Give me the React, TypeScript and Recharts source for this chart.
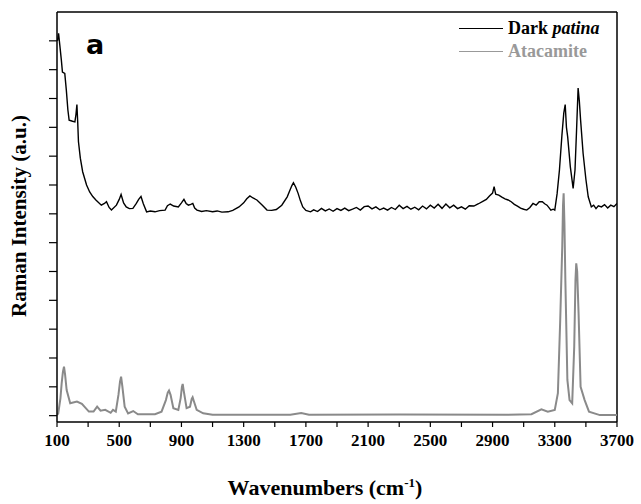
import React from 'react';
import { LineChart, Line, XAxis, YAxis, ReferenceLine } from 'recharts';

// Dark patina spectrum (wavenumber cm-1, intensity a.u.)
const patinaWavenumbers = [103,110,118,128,135,150,160,170,178,200,215,222,228,233,238,250,265,290,310,330,350,385,405,418,435,450,482,500,512,528,545,565,588,610,625,640,655,676,700,730,760,795,810,828,850,880,900,916,930,945,960,973,985,1000,1030,1060,1100,1130,1160,1200,1230,1270,1300,1320,1340,1360,1385,1420,1450,1480,1510,1545,1580,1600,1610,1620,1635,1650,1665,1680,1700,1730,1750,1775,1800,1825,1850,1875,1900,1925,1950,1975,2000,2025,2050,2075,2100,2125,2150,2175,2200,2225,2250,2275,2300,2325,2350,2375,2400,2425,2450,2475,2500,2525,2550,2575,2600,2625,2650,2675,2700,2725,2750,2780,2810,2840,2860,2880,2900,2910,2920,2940,2960,2980,3000,3020,3040,3060,3080,3100,3120,3140,3160,3180,3200,3220,3235,3250,3265,3275,3290,3300,3315,3330,3346,3358,3367,3375,3383,3400,3418,3430,3440,3450,3458,3466,3482,3500,3515,3535,3550,3565,3580,3600,3620,3640,3660,3680,3700];
const patinaIntensity = [13.0,13.26,12.85,12.33,11.92,11.87,11.29,10.6,10.25,10.21,10.19,10.45,10.79,10.2,9.5,8.93,8.46,8.0,7.76,7.6,7.48,7.3,7.36,7.42,7.22,7.13,7.3,7.5,7.67,7.38,7.24,7.18,7.19,7.36,7.5,7.6,7.35,7.07,7.1,7.07,7.11,7.13,7.28,7.34,7.27,7.24,7.38,7.5,7.36,7.3,7.33,7.36,7.2,7.13,7.08,7.11,7.07,7.1,7.06,7.07,7.12,7.24,7.38,7.52,7.62,7.55,7.48,7.3,7.13,7.12,7.15,7.3,7.59,7.85,7.98,8.08,7.92,7.71,7.45,7.24,7.12,7.07,7.14,7.08,7.19,7.1,7.17,7.09,7.18,7.12,7.2,7.11,7.16,7.22,7.13,7.25,7.27,7.17,7.24,7.14,7.2,7.13,7.22,7.15,7.3,7.18,7.26,7.16,7.23,7.14,7.27,7.17,7.3,7.2,7.33,7.19,7.34,7.21,7.3,7.18,7.24,7.16,7.28,7.27,7.35,7.44,7.5,7.62,7.72,7.94,7.68,7.65,7.58,7.52,7.48,7.42,7.33,7.27,7.2,7.16,7.13,7.22,7.36,7.3,7.42,7.42,7.35,7.3,7.2,7.13,7.16,7.13,7.7,8.52,9.73,10.5,10.79,10.0,9.67,8.63,7.88,8.52,9.9,11.36,10.9,10.25,9.1,8.2,7.59,7.24,7.3,7.18,7.28,7.24,7.32,7.2,7.3,7.25,7.36];

// Atacamite spectrum
const atacamiteWavenumbers = [100,108,122,130,138,145,152,162,185,228,260,305,335,358,380,410,445,460,478,495,505,512,520,535,557,590,620,730,772,800,812,820,830,848,880,895,903,908,915,933,955,966,972,980,998,1040,1100,1600,1670,1720,2300,3000,3150,3214,3255,3300,3320,3335,3348,3353,3357,3362,3368,3381,3395,3412,3425,3433,3438,3444,3453,3466,3492,3520,3590,3700];
const atacamiteIntensity = [0.02,0.08,0.6,1.12,1.52,1.7,1.42,0.89,0.43,0.49,0.41,0.14,0.14,0.31,0.17,0.2,0.1,0.2,0.14,0.72,1.18,1.35,1.02,0.31,0.08,0.16,0.05,0.05,0.14,0.54,0.8,0.87,0.72,0.26,0.2,0.61,1.0,1.1,0.85,0.26,0.31,0.58,0.64,0.5,0.2,0.08,0.03,0.03,0.09,0.03,0.04,0.03,0.05,0.22,0.14,0.2,0.78,3.32,5.86,7.3,7.71,6.7,4.7,1.24,0.54,0.43,2.39,4.7,5.28,5.0,3.55,1.0,0.54,0.14,0.02,0.02];

const xTicks = [100,300,500,700,900,1100,1300,1500,1700,1900,2100,2300,2500,2700,2900,3100,3300,3500,3700];
const xTickLabels = ['100','500','900','1300','1700','2100','2500','2900','3300','3700'];
const yTicks = [0,1,2,3,4,5,6,7,8,9,10,11,12,13];

const seriesNames = ['Dark patina', 'Atacamite'];
const seriesColors = ['#000000', '#8a8a8a'];
const legendTextColors = ['#000000', '#999999'];

const patinaData = patinaWavenumbers.map((w, i) => ({ w, v: patinaIntensity[i] }));
const atacamiteData = atacamiteWavenumbers.map((w, i) => ({ w, v: atacamiteIntensity[i] }));

const serif = '"Liberation Serif", "Times New Roman", serif';

export default function App() {
  return (
    <div style={{ position: 'absolute', left: 0, top: 0, width: 641, height: 504, background: '#fff' }}>
      <LineChart width={641} height={504} margin={{ top: 12, right: 24, bottom: 0, left: 56 }}>
        <XAxis
          dataKey="w"
          type="number"
          domain={[100, 3700]}
          allowDataOverflow
          ticks={xTicks}
          interval={0}
          allowDuplicatedCategory={false}
          height={82}
          tickSize={5}
          tickMargin={7}
          axisLine={{ stroke: '#000', strokeWidth: 1.5 }}
          tickLine={{ stroke: '#000', strokeWidth: 1.2 }}
          tickFormatter={(v: number) => (xTickLabels.includes(String(v)) ? String(v) : '')}
          tick={{ fill: '#000', fontFamily: serif, fontWeight: 'bold', fontSize: 17 }}
          label={{
            content: () => (
              <text x={325} y={495} textAnchor="middle" fontFamily={serif} fontWeight="bold" fontSize={22} fill="#000">
                Wavenumbers (cm<tspan dy={-8} fontSize={13}>-1</tspan><tspan dy={8}>)</tspan>
              </text>
            ),
          }}
        />
        <YAxis
          type="number"
          domain={[-0.22, 14]}
          allowDataOverflow
          ticks={yTicks}
          interval={0}
          width={1}
          tickSize={8}
          axisLine={{ stroke: '#000', strokeWidth: 1.5 }}
          tickLine={{ stroke: '#000', strokeWidth: 1.2 }}
          tickFormatter={() => ''}
          label={{
            content: () => (
              <text x={26} y={216} transform="rotate(-90 26 216)" textAnchor="middle" fontFamily={serif} fontWeight="bold" fontSize={21} fill="#000">
                Raman Intensity (a.u.)
              </text>
            ),
          }}
        />
        <ReferenceLine y={14} stroke="#000" strokeWidth={1.5} ifOverflow="visible" />
        <ReferenceLine x={3700} stroke="#000" strokeWidth={1.5} ifOverflow="visible"
          label={{
            content: () => (
              <text x={95} y={54} textAnchor="middle" fontFamily='"DejaVu Sans", sans-serif' fontWeight="bold" fontSize={27} fill="#000">a</text>
            ),
          }}
        />
        <Line data={atacamiteData} dataKey="v" name={seriesNames[1]} type="linear" stroke={seriesColors[1]} strokeWidth={2} dot={false} isAnimationActive={false} />
        <Line data={patinaData} dataKey="v" name={seriesNames[0]} type="linear" stroke={seriesColors[0]} strokeWidth={1.4} dot={false} isAnimationActive={false} />
      </LineChart>
      <div style={{ position: 'absolute', left: 459, top: 17, fontFamily: serif, fontWeight: 'bold', fontSize: 18, lineHeight: '23px' }}>
        {seriesNames.map((n, i) => (
          <div key={n} style={{ display: 'flex', alignItems: 'center', color: legendTextColors[i], whiteSpace: 'nowrap' }}>
            <span style={{ display: 'inline-block', width: 44, height: 0, borderTop: `1.5px solid ${legendTextColors[i]}`, marginRight: 5 }} />
            {i === 0 ? (<span>Dark <i>patina</i></span>) : <span>{n}</span>}
          </div>
        ))}
      </div>
    </div>
  );
}
